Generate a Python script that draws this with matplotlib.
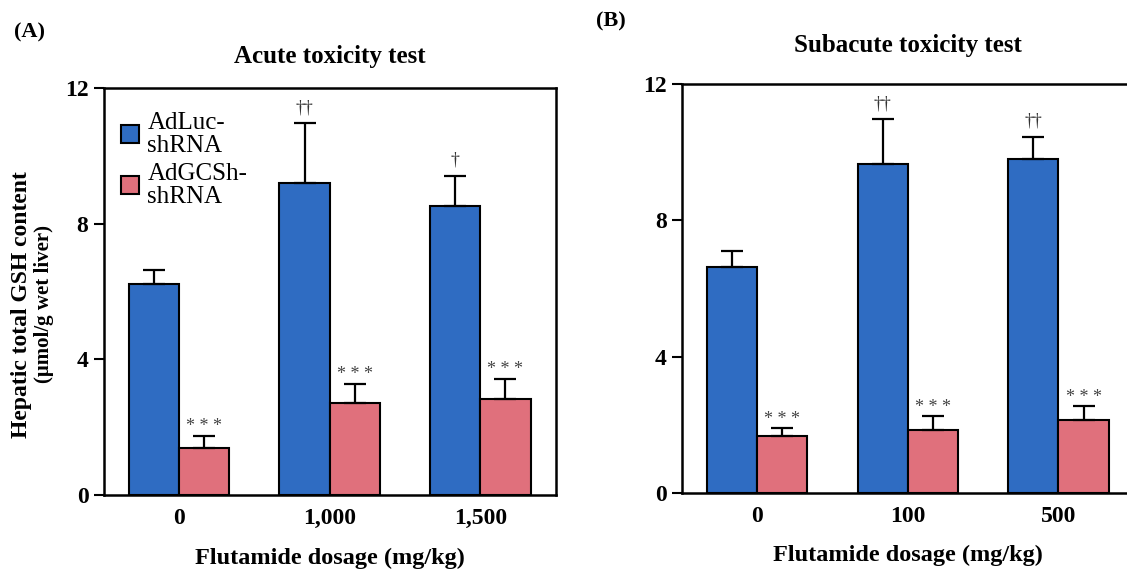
import numpy as np
import matplotlib.pyplot as plt

plt.rcParams['font.family'] = ['Liberation Serif', 'DejaVu Serif']

# data
acute_doses = ['0', '1,000', '1,500']
acute_luc = [6.22, 9.21, 8.52]
acute_luc_err = [0.42, 1.75, 0.90]
acute_gcs = [1.38, 2.70, 2.83]
acute_gcs_err = [0.36, 0.57, 0.59]
acute_luc_marks = ['', '\u2020\u2020', '\u2020']
acute_gcs_marks = ['* * *', '* * *', '* * *']

sub_doses = ['0', '100', '500']
sub_luc = [6.64, 9.65, 9.79]
sub_luc_err = [0.47, 1.32, 0.67]
sub_gcs = [1.68, 1.84, 2.13]
sub_gcs_err = [0.22, 0.41, 0.41]
sub_luc_marks = ['', '\u2020\u2020', '\u2020\u2020']
sub_gcs_marks = ['* * *', '* * *', '* * *']

BLUE = '#2f6cc2'
PINK = '#e0707c'
W = 1 / 3

fig = plt.figure(figsize=(11.27, 5.74), dpi=100)
ax1 = fig.add_axes([0.092, 0.1376, 0.401, 0.709])
ax2 = fig.add_axes([0.605, 0.141, 0.401, 0.7125])


def draw_panel(ax, doses, luc, luc_err, gcs, gcs_err, luc_marks, gcs_marks):
    x = np.arange(len(doses))
    ax.bar(x - W / 2, luc, W, color=BLUE, edgecolor='black', linewidth=1.5,
           yerr=[np.zeros(len(luc)), luc_err], capsize=8,
           error_kw=dict(elinewidth=1.6, capthick=1.6, ecolor='black'),
           label='AdLuc-\nshRNA', zorder=2)
    ax.bar(x + W / 2, gcs, W, color=PINK, edgecolor='black', linewidth=1.5,
           yerr=[np.zeros(len(gcs)), gcs_err], capsize=8,
           error_kw=dict(elinewidth=1.6, capthick=1.6, ecolor='black'),
           label='AdGCSh-\nshRNA', zorder=2)
    for i in range(len(doses)):
        ax.text(x[i] - W / 2, luc[i] + luc_err[i] + 0.2, luc_marks[i],
                ha='center', va='bottom', fontsize=13, color='#333333')
        ax.text(x[i] + W / 2, gcs[i] + gcs_err[i] + 0.02, gcs_marks[i],
                ha='center', va='bottom', fontsize=13, color='#444444')
    ax.set_xlim(-0.5, len(doses) - 0.5)
    ax.set_ylim(0, 12)
    ax.set_yticks([0, 4, 8, 12])
    ax.set_xticks(x)
    ax.set_xticklabels(doses)
    ax.tick_params(axis='x', length=0, pad=9, labelsize=17)
    ax.tick_params(axis='y', length=7, width=1.5, pad=4, labelsize=17)
    for lbl in ax.get_xticklabels() + ax.get_yticklabels():
        lbl.set_fontweight('bold')
    for s in ax.spines.values():
        s.set_linewidth(1.8)


draw_panel(ax1, acute_doses, acute_luc, acute_luc_err, acute_gcs, acute_gcs_err,
           acute_luc_marks, acute_gcs_marks)
draw_panel(ax2, sub_doses, sub_luc, sub_luc_err, sub_gcs, sub_gcs_err,
           sub_luc_marks, sub_gcs_marks)

ax1.set_xlabel('Flutamide dosage (mg/kg)', fontsize=17.5, fontweight='bold',
               labelpad=14)
ax2.set_xlabel('Flutamide dosage (mg/kg)', fontsize=17.5, fontweight='bold',
               labelpad=13)
ax1.set_title('Acute toxicity test', fontsize=18, fontweight='bold', pad=18)
ax2.set_title('Subacute toxicity test', fontsize=18, fontweight='bold', pad=23)

leg = ax1.legend(loc='upper left', bbox_to_anchor=(0.0, 0.985), frameon=False,
                 fontsize=18, handlelength=0.7, handleheight=0.7,
                 handletextpad=0.35, labelspacing=0.25, borderaxespad=0.3)
for t in leg.get_texts():
    t.set_linespacing(1.05)

fig.text(0.012, 0.944, '(A)', fontsize=16, fontweight='bold', va='center')
fig.text(0.529, 0.963, '(B)', fontsize=16, fontweight='bold', va='center')
fig.text(0.019, 0.47, 'Hepatic total GSH content', rotation=90, fontsize=17,
         fontweight='bold', ha='center', va='center')
fig.text(0.039, 0.47, '(\u03bcmol/g wet liver)', rotation=90, fontsize=15,
         fontweight='bold', ha='center', va='center')

fig.savefig('out.png', dpi=100)
